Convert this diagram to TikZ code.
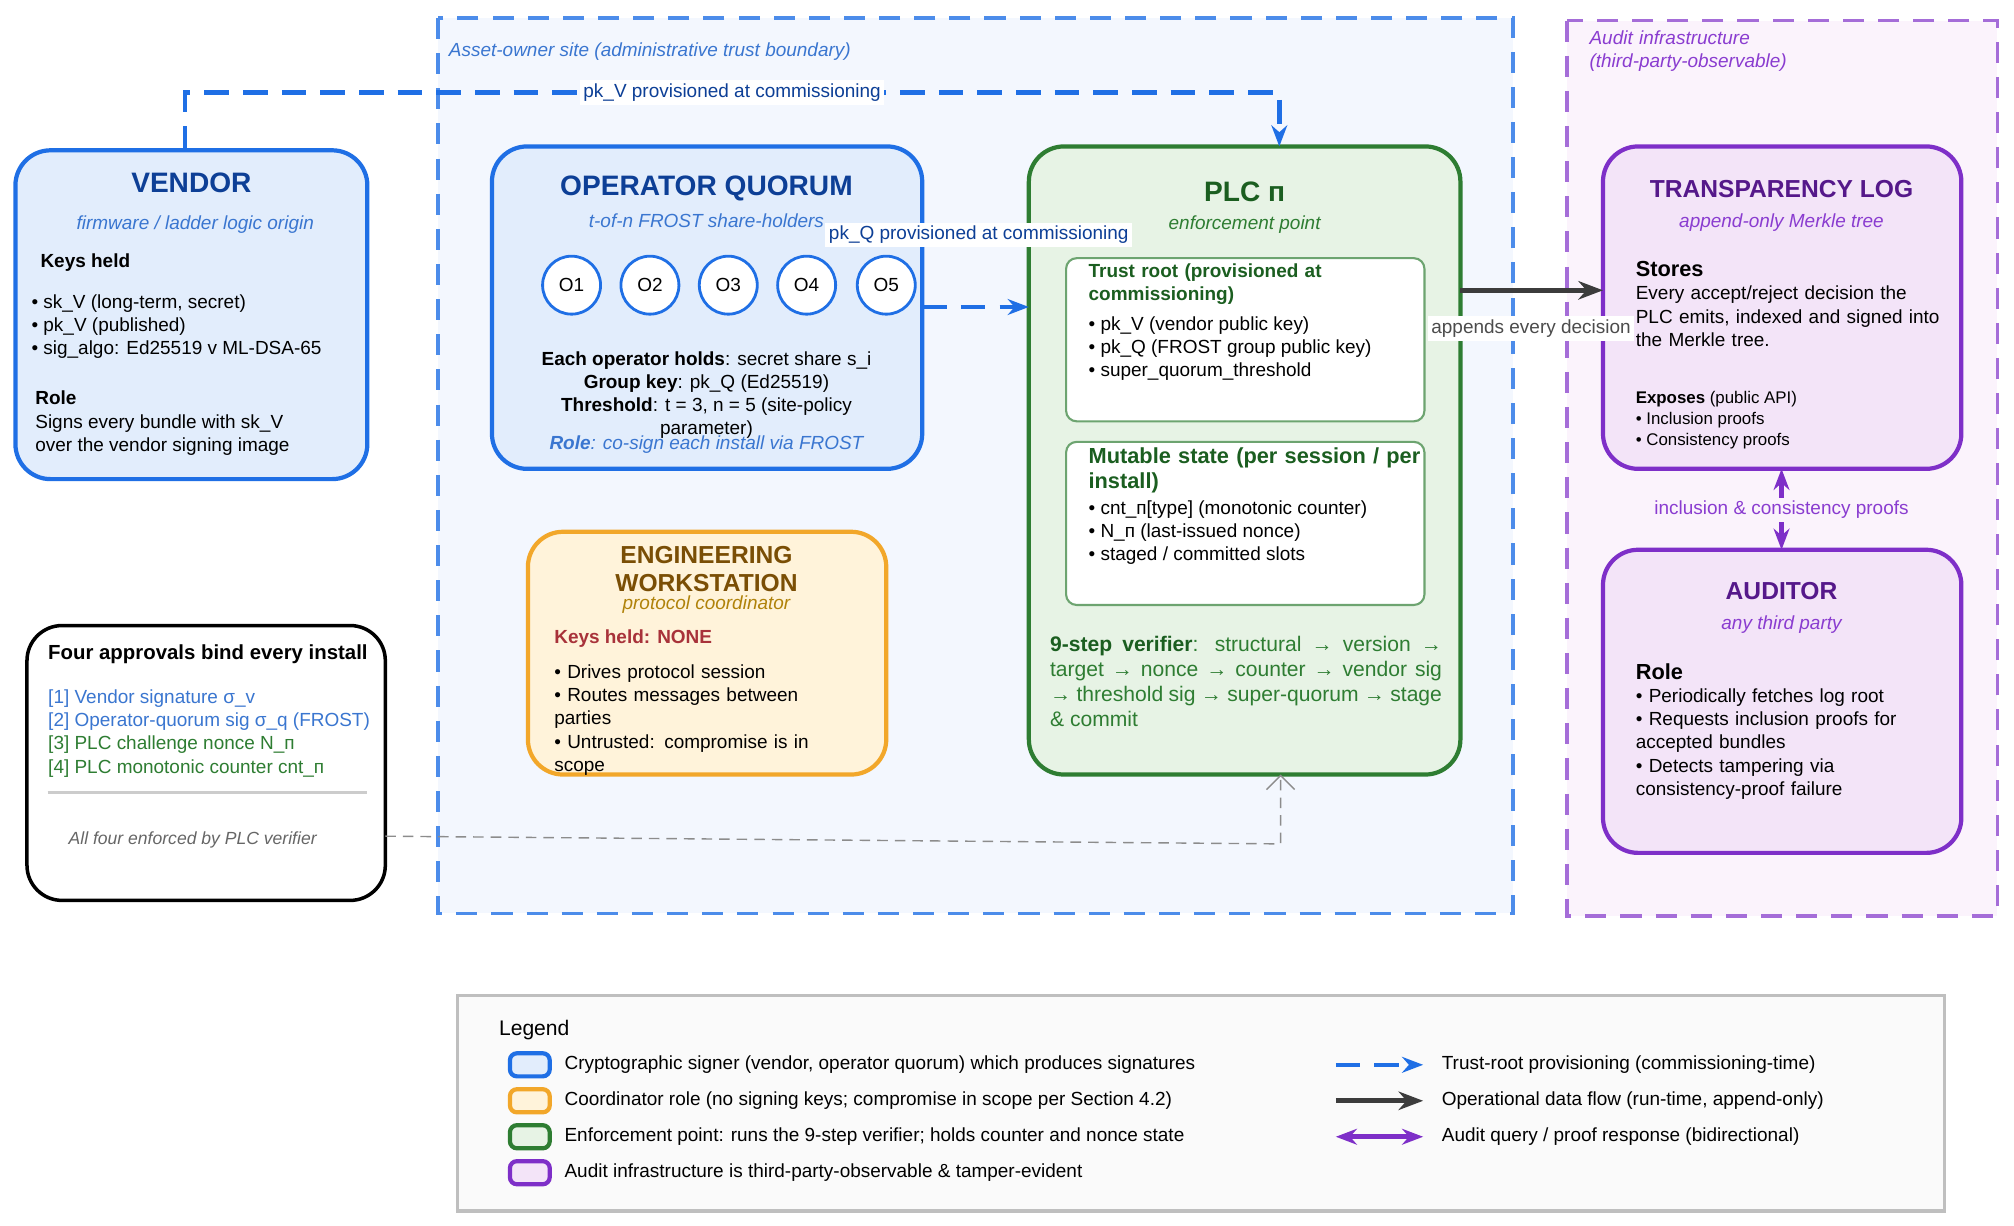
\documentclass[tikz,border=0pt]{standalone}
\usepackage{fontspec}
\setmainfont{Liberation Sans}
\usetikzlibrary{arrows.meta}

\definecolor{sigline}{HTML}{1F6FE5}
\definecolor{sigfill}{HTML}{E2EDFC}
\definecolor{sigtitle}{HTML}{0D3F96}
\definecolor{sigsub}{HTML}{3A76D0}
\definecolor{plcline}{HTML}{2E7D32}
\definecolor{plcfill}{HTML}{E7F3E5}
\definecolor{plctitle}{HTML}{1B5E20}
\definecolor{ewline}{HTML}{F2A72A}
\definecolor{ewfill}{HTML}{FFF3DA}
\definecolor{ewtitle}{HTML}{7A4E05}
\definecolor{ewsub}{HTML}{B0820A}
\definecolor{ewred}{HTML}{A8323A}
\definecolor{audline}{HTML}{7E2FC8}
\definecolor{audfill}{HTML}{F3E4F8}
\definecolor{audtitle}{HTML}{55188A}
\definecolor{audsub}{HTML}{8A3CD0}
\definecolor{sitefill}{HTML}{F3F7FE}
\definecolor{auditzone}{HTML}{FBF3FC}
\definecolor{opflow}{HTML}{3C3C3C}

\newcommand\fs{\fontsize{5.4}{6.6}\selectfont}
\newcommand\fst{\fontsize{8}{9.4}\selectfont\bfseries}
\hyphenpenalty=10000
\exhyphenpenalty=10000

\begin{document}
\begin{tikzpicture}[x=0.012845cm,y=-0.012845cm,
    box/.style={rounded corners=10pt,line width=1.2pt},
    signer/.style={box,draw=sigline,fill=sigfill},
    plc/.style={box,draw=plcline,fill=plcfill},
    coord/.style={box,draw=ewline,fill=ewfill},
    audit/.style={box,draw=audline,fill=audfill},
    inner/.style={rounded corners=3pt,draw=plcline!70,fill=white,line width=0.6pt},
    txt/.style={font=\fs,inner sep=0pt,anchor=north west,align=left},
    ctxt/.style={font=\fs,inner sep=0pt,align=center},
    title/.style={font=\fst,inner sep=0pt},
    sub/.style={font=\fs\itshape,inner sep=0pt},
    provision/.style={draw=sigline,line width=1.3pt,dash pattern=on 7pt off 4pt,-{Stealth[length=6pt]}},
    lbl/.style={font=\fs,fill=white,inner sep=1pt}]

\useasboundingbox (0,0) rectangle (1568,954);

% Zonen
\draw[sigline!80,fill=sitefill,line width=1pt,dash pattern=on 6pt off 4pt] (341,14) rectangle (1178,711);
\node[txt,text=sigsub,font=\fs\itshape,anchor=west] (sitelbl) at (349,40) {Asset-owner site (administrative trust boundary)};
\draw[audline!70,fill=auditzone,line width=1pt,dash pattern=on 6pt off 4pt] (1220,16) rectangle (1555,713);
\node[txt,text=audsub,font=\fs\itshape,text width=3.3cm] (auditlbl) at (1237,23) {Audit infrastructure (third-party-observable)};

% Vendor
\draw[signer] (12,117) rectangle (286,373);
\node[title,text=sigtitle] (vendor) at (149,142) {VENDOR};
\node[sub,text=sigsub] (vendorsub) at (152,175) {firmware / ladder logic origin};
\node[txt,font=\fs\bfseries] (vkeys) at (31,197) {Keys held};
\node[txt] (vkeylist) at (24,229) {• sk\_V (long-term, secret)\\• pk\_V (published)\\• sig\_algo: Ed25519 v ML-DSA-65};
\node[txt] (vrole) at (27,304) {\textbf{Role}\\Signs every bundle with sk\_V\\over the vendor signing image};
\coordinate (vtop) at (144,117);

% Operator quorum
\draw[signer] (383,114) rectangle (718,365);
\node[title,text=sigtitle] (quorum) at (550,147) {OPERATOR QUORUM};
\node[sub,text=sigsub] (quorumsub) at (550,172) {t-of-n FROST share-holders};
\foreach \i/\x in {1/445,2/506,3/567,4/628,5/690}
    \node[circle,draw=sigline,fill=white,line width=0.8pt,minimum size=0.58cm,font=\fs,inner sep=0pt] (o\i) at (\x,222) {O\i};
\node[ctxt,anchor=north] (qtext) at (550,273) {\textbf{Each operator holds}: secret share s\_i\\\textbf{Group key}: pk\_Q (Ed25519)\\\textbf{Threshold}: t = 3, n = 5 (site-policy\\parameter)};
\node[sub,text=sigsub] (qrole) at (550,346) {\textbf{Role}: co-sign each install via FROST};

% PLC
\draw[plc] (801,114) rectangle (1137,603);
\node[title,text=plctitle] (plc) at (969,149) {PLC п};
\node[sub,text=plcline] (plcsub) at (969,175) {enforcement point};
\draw[inner] (830,201) rectangle (1109,328);
\node[txt,text=plctitle,text width=2.9cm] (trustroot) at (847,205) {\textbf{Trust root (provisioned at commissioning)}};
\node[txt] (trustlist) at (847,246) {• pk\_V (vendor public key)\\• pk\_Q (FROST group public key)\\• super\_quorum\_threshold};
\draw[inner] (830,344) rectangle (1109,471);
\node[txt,text=plctitle,text width=3.4cm,font=\fontsize{6.2}{7.2}\selectfont\bfseries] (mutable) at (847,348) {Mutable state (per session / per install)};
\node[txt] (mutlist) at (847,389) {• cnt\_п[type] (monotonic counter)\\• N\_п (last-issued nonce)\\• staged / committed slots};
\node[txt,text=plcline,text width=3.92cm,align=justify,font=\fontsize{6}{7.1}\selectfont] (verifier) at (817,495) {\textbf{\color{plctitle}9-step verifier}: structural → version → target → nonce → counter → vendor sig → threshold sig → super-quorum → stage \& commit};

% Engineering workstation
\draw[coord] (411,414) rectangle (690,603);
\node[title,text=ewtitle,align=center,font=\fontsize{7}{7.8}\selectfont\bfseries] (ews) at (550,443) {ENGINEERING\\WORKSTATION};
\node[sub,text=ewsub] (ewssub) at (550,471) {protocol coordinator};
\node[txt,text=ewred,font=\fs\bfseries,anchor=west] (ewskeys) at (431,497) {Keys held: NONE};
\node[txt,text width=2.65cm] (ewslist) at (431,517) {• Drives protocol session\\• Routes messages between parties\\• Untrusted: compromise is in scope};

% Transparency log
\draw[audit] (1248,114) rectangle (1527,365);
\node[title,text=audtitle,font=\fontsize{7}{8}\selectfont\bfseries] (tlog) at (1387,147) {TRANSPARENCY LOG};
\node[sub,text=audsub] (tlogsub) at (1387,173) {append-only Merkle tree};
\node[txt,text width=3.1cm] (stores) at (1273,203) {{\fontsize{6.2}{7}\selectfont\textbf{Stores}}\\Every accept/reject decision the PLC emits, indexed and signed into the Merkle tree.};
\node[txt,font=\fontsize{4.8}{6}\selectfont] (exposes) at (1273,304) {\textbf{Exposes} (public API)\\• Inclusion proofs\\• Consistency proofs};

% Auditor
\draw[audit] (1248,428) rectangle (1527,664);
\node[title,text=audtitle,font=\fontsize{7}{8}\selectfont\bfseries] (auditor) at (1387,460) {AUDITOR};
\node[sub,text=audsub] (auditorsub) at (1387,486) {any third party};
\node[txt,text width=2.8cm] (arole) at (1273,516) {{\fontsize{6.2}{7}\selectfont\textbf{Role}}\\• Periodically fetches log root\\• Requests inclusion proofs for accepted bundles\\• Detects tampering via consistency-proof failure};

% Four approvals
\draw[rounded corners=10pt,line width=1pt,fill=white] (21,487) rectangle (300,701);
\node[txt,font=\fontsize{5.8}{7}\selectfont\bfseries,anchor=west] (four) at (37,509) {Four approvals bind every install};
\node[txt,anchor=west,text=sigsub] (a1) at (37,544) {[1] Vendor signature σ\_v};
\node[txt,anchor=west,text=sigsub] (a2) at (37,562) {[2] Operator-quorum sig σ\_q (FROST)};
\node[txt,anchor=west,text=plcline] (a3) at (37,580) {[3] PLC challenge nonce N\_п};
\node[txt,anchor=west,text=plcline] (a4) at (37,598) {[4] PLC monotonic counter cnt\_п};
\draw[black!20,line width=1pt] (37,617) -- (286,617);
\node[sub,text=black!60,font=\fontsize{5}{6}\selectfont\itshape] (allfour) at (150,654) {All four enforced by PLC verifier};

% Verbindungen
\coordinate (vturn) at (144,72);
\coordinate (pturn) at (996,72);
\draw[provision] (vtop) -- (vturn) -- (pturn) -- (996,114);
\node[lbl,text=sigtitle] (pkvlbl) at (570,72) {pk\_V provisioned at commissioning};
\draw[provision] (718,239) -- (801,239);
\node[lbl,text=sigtitle] (pkqlbl) at (762,183) {pk\_Q provisioned at commissioning};
\draw[opflow,line width=1.5pt,-{Stealth[length=7pt]}] (1137,226) -- (1248,226);
\node[lbl,text=black!70] (applbl) at (1192,256) {appends every decision};
\draw[audline,line width=1.5pt,{Stealth[length=6pt]}-{Stealth[length=6pt]}] (1387,365) -- (1387,428);
\node[lbl,text=audsub,fill=auditzone] (prooflbl) at (1387,397) {inclusion \& consistency proofs};
\draw[black!45,densely dashed,-{Straight Barb[length=4pt]}] (300,651) -- (997,657) -- (997,603);

% Legende
\draw[black!25,fill=black!2,line width=1pt] (356,775) rectangle (1514,943);
\node[txt,font=\fontsize{6}{7}\selectfont,anchor=west] (legend) at (388,802) {Legend};
\foreach \y/\s/\t in {829/signer/Cryptographic signer (vendor{,} operator quorum) which produces signatures,
                      857/coord/Coordinator role (no signing keys; compromise in scope per Section 4.2),
                      885/plc/Enforcement point: runs the 9-step verifier; holds counter and nonce state,
                      913/audit/Audit infrastructure is third-party-observable \& tamper-evident} {
    \draw[\s,rounded corners=2pt] (397,\y-9) rectangle (428,\y+9);
    \node[txt,anchor=west] (leg\y) at (439,\y) {\t};
}
\draw[provision] (1040,829) -- (1108,829);
\node[txt,anchor=west] (legprov) at (1122,829) {Trust-root provisioning (commissioning-time)};
\draw[opflow,line width=1.5pt,-{Stealth[length=7pt]}] (1040,857) -- (1108,857);
\node[txt,anchor=west] (legop) at (1122,857) {Operational data flow (run-time, append-only)};
\draw[audline,line width=1.5pt,{Stealth[length=6pt]}-{Stealth[length=6pt]}] (1040,885) -- (1108,885);
\node[txt,anchor=west] (legaud) at (1122,885) {Audit query / proof response (bidirectional)};
\end{tikzpicture}
\end{document}
